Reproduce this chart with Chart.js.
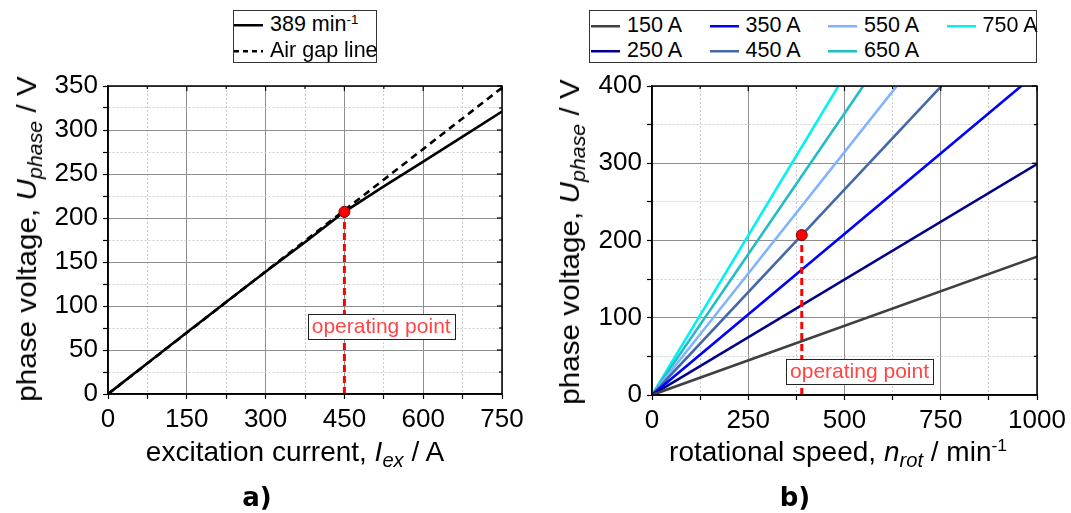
<!DOCTYPE html>
<html><head><meta charset="utf-8">
<script src="https://cdn.jsdelivr.net/npm/chart.js@4.4.0/dist/chart.umd.min.js"></script>
<style>
html,body{margin:0;padding:0;background:#fff;}
body{width:1071px;height:513px;overflow:hidden;position:relative;font-family:"Liberation Sans",Arial,sans-serif;color:#000;}
canvas{position:absolute;top:0;}
#cA{left:0;}
#cB{left:540px;}
.lg{position:absolute;border:1px solid #333;background:#fff;box-sizing:border-box;font-size:21.5px;}
.it{position:absolute;display:flex;align-items:center;white-space:nowrap;line-height:1;transform:translateY(-50%);}
.it svg{margin-right:7px;}
.t{position:absolute;white-space:nowrap;line-height:1;font-size:28px;}
.t sub{font-size:0.72em;vertical-align:-0.28em;line-height:0;}
.t sup,.lg sup{font-size:0.62em;vertical-align:0.55em;line-height:0;}
.pl{position:absolute;font-family:"DejaVu Sans",sans-serif;font-weight:bold;font-size:26px;line-height:1;transform:translate(-50%,-50%);}
</style>
</head><body>
<canvas id="cA" width="540" height="513"></canvas>
<canvas id="cB" width="531" height="513"></canvas>
<div class="lg" id="lgA" style="left:233px;top:10px;width:144px;height:53px;"></div>
<div class="lg" id="lgB" style="left:589px;top:10px;width:448px;height:53px;"></div>
<div class="t" style="left:27px;top:239px;transform:translate(-50%,-50%) rotate(-90deg) scaleX(1.06);">phase voltage, <i>U</i><sub><i>phase</i></sub> / V</div>
<div class="t" style="left:570px;top:242px;transform:translate(-50%,-50%) rotate(-90deg) scaleX(1.06);">phase voltage, <i>U</i><sub><i>phase</i></sub> / V</div>
<div class="t" style="left:295px;top:452px;transform:translate(-50%,-50%);">excitation current, <i>I</i><sub><i>ex</i></sub> / A</div>
<div class="t" style="left:838px;top:452px;transform:translate(-50%,-50%);">rotational speed, <i>n</i><sub><i>rot</i></sub> / min<sup>-1</sup></div>
<div class="pl" style="left:257px;top:497px;">a)</div>
<div class="pl" style="left:795px;top:497px;">b)</div>
<script>
// ---------- data ----------
// panel a) : phase voltage vs excitation current
const excitationCurrent = [0, 75, 150, 225, 300, 375, 450, 525, 600, 675, 750];
const voltage389 = [0, 35, 70, 104.5, 139, 172.5, 207, 236, 264, 292.5, 321];
const airGapCurrent = [0, 750];
const airGapVoltage = [0, 348];
const opCurrent = 450;
const opVoltage = 207;
const legendA = ['389 min', 'Air gap line'];

// panel b) : phase voltage vs rotational speed
const speed = [0, 1000];
const seriesLabels = ['150 A', '250 A', '350 A', '450 A', '550 A', '650 A', '750 A'];
const v150 = [0, 179];
const v250 = [0, 299];
const v350 = [0, 417];
const v450 = [0, 532];
const v550 = [0, 629];
const v650 = [0, 729];
const v750 = [0, 826];
const opSpeed = 389;

// tick labels
const xTicksA = [0, 150, 300, 450, 600, 750];
const yTicksA = [0, 50, 100, 150, 200, 250, 300, 350];
const xTicksB = [0, 250, 500, 750, 1000];
const yTicksB = [0, 100, 200, 300, 400];
const opLabel = 'operating point';

// ---------- helpers ----------
const seriesColors = ['#404040', '#00008b', '#0000ff', '#4668a8', '#80b4ff', '#22bcc4', '#00f2f2'];
const FONT = '"Liberation Sans", Arial, sans-serif';
function pts(xs, ys) { return xs.map((x, i) => ({x: x, y: ys[i]})); }

function axis(min, max, minorStep, majors, pos, fitSize) {
  return {
    type: 'linear', position: pos, min: min, max: max,
    afterFit: s => { if (pos === 'bottom') s.height = fitSize; else s.width = fitSize; },
    ticks: {
      stepSize: minorStep, autoSkip: false, maxRotation: 0, color: '#000', padding: pos === 'bottom' ? 5 : 5,
      font: {family: FONT, size: 26},
      callback: v => majors.includes(v) ? String(v) : ''
    },
    grid: {
      color: c => (c.tick && majors.includes(c.tick.value)) ? '#8e8e8e' : '#cdcdcd',
      lineWidth: 1, tickLength: 5,
      tickColor: '#000', tickWidth: 1.2
    },
    border: {display: true, color: '#000', width: 1.5,
      dash: c => (c.tick && majors.includes(c.tick.value)) ? [] : [2, 2]}
  };
}

const framePlugin = {
  id: 'frame',
  afterDatasetsDraw(chart, args, opts) {
    const ctx = chart.ctx, a = chart.chartArea;
    const xs = chart.scales.x, ys = chart.scales.y;
    ctx.save();
    ctx.strokeStyle = '#000';
    ctx.lineWidth = 1.2;
    // inward ticks on top and right border
    xs.ticks.forEach(t => {
      const px = xs.getPixelForValue(t.value);
      const len = opts.xMaj.includes(t.value) ? 5 : 3;
      ctx.beginPath(); ctx.moveTo(px, a.top); ctx.lineTo(px, a.top + len); ctx.stroke();
    });
    ys.ticks.forEach(t => {
      const py = ys.getPixelForValue(t.value);
      const len = opts.yMaj.includes(t.value) ? 5 : 3;
      ctx.beginPath(); ctx.moveTo(a.right, py); ctx.lineTo(a.right - len, py); ctx.stroke();
    });
    ctx.lineWidth = 1.5;
    ctx.strokeRect(a.left, a.top, a.right - a.left, a.bottom - a.top);
    // operating point label box
    const cx = xs.getPixelForValue(opts.boxX), cy = ys.getPixelForValue(opts.boxY);
    ctx.font = '21px ' + FONT;
    const w = ctx.measureText(opts.text).width + 8, h = 25;
    ctx.fillStyle = '#fff';
    ctx.fillRect(cx - w / 2, cy - h / 2, w, h);
    ctx.lineWidth = 1;
    ctx.strokeStyle = '#222';
    ctx.strokeRect(Math.round(cx - w / 2) + 0.5, Math.round(cy - h / 2) + 0.5, Math.round(w), h);
    ctx.fillStyle = '#ff4545';
    ctx.textAlign = 'center'; ctx.textBaseline = 'middle';
    ctx.fillText(opts.text, cx, cy + 1);
    // operating point marker on top
    const mx = xs.getPixelForValue(opts.opX), my = ys.getPixelForValue(opts.opY);
    ctx.beginPath(); ctx.arc(mx, my, 5.5, 0, Math.PI * 2);
    ctx.fillStyle = '#ff0000'; ctx.fill();
    ctx.strokeStyle = '#7a0000'; ctx.lineWidth = 1; ctx.stroke();
    ctx.restore();
  }
};

function lineDs(label, xs, ys, color, dash) {
  return {label: label, data: pts(xs, ys), borderColor: color, backgroundColor: color,
    borderWidth: 2.6, borderDash: dash || [], pointRadius: 0, tension: 0, fill: false};
}
function opLineDs(x, y) {
  return {label: 'op', data: [{x: x, y: 0}, {x: x, y: y}], borderColor: '#ff0000',
    borderWidth: 3, borderDash: [7, 4], pointRadius: 0, fill: false, clip: 0};
}

// ---------- chart a ----------
const dsA = [
  opLineDs(opCurrent, opVoltage),
  lineDs(legendA[1], airGapCurrent, airGapVoltage, '#000', [7, 5]),
  lineDs(legendA[0], excitationCurrent, voltage389, '#000')
];
new Chart(document.getElementById('cA'), {
  type: 'line',
  data: {datasets: dsA},
  plugins: [framePlugin],
  options: {
    responsive: false, animation: false, events: [],
    layout: {padding: {left: 0, top: 86, right: 38, bottom: 0}},
    plugins: {legend: {display: false}, tooltip: {enabled: false},
      frame: {xMaj: xTicksA, yMaj: yTicksA, boxX: 520, boxY: 76.5, text: opLabel, opX: opCurrent, opY: opVoltage}},
    scales: {
      x: axis(0, 750, 75, xTicksA, 'bottom', 119),
      y: axis(0, 350, 25, yTicksA, 'left', 108)
    }
  }
});

// ---------- chart b ----------
const vB = [v150, v250, v350, v450, v550, v650, v750];
const dsB = [opLineDs(opSpeed, opVoltage)].concat(
  seriesLabels.map((l, i) => lineDs(l, speed, vB[i], seriesColors[i])));
new Chart(document.getElementById('cB'), {
  type: 'line',
  data: {datasets: dsB},
  plugins: [framePlugin],
  options: {
    responsive: false, animation: false, events: [],
    layout: {padding: {left: 0, top: 86, right: 34, bottom: 0}},
    plugins: {legend: {display: false}, tooltip: {enabled: false},
      frame: {xMaj: xTicksB, yMaj: yTicksB, boxX: 539, boxY: 30.4, text: opLabel, opX: opSpeed, opY: opVoltage}},
    scales: {
      x: axis(0, 1000, 125, xTicksB, 'bottom', 118),
      y: axis(0, 400, 50, yTicksB, 'left', 112)
    }
  }
});

// ---------- HTML legends built from the datasets ----------
function sample(color, dash) {
  return '<svg width="29" height="6"><line x1="0" y1="3" x2="29" y2="3" stroke="' + color +
    '" stroke-width="2.6"' + (dash ? ' stroke-dasharray="5,4"' : '') + '/></svg>';
}
const lgA = document.getElementById('lgA');
lgA.innerHTML =
  '<div class="it" style="left:0;top:14px;">' + sample('#000') + '<span>' + legendA[0] + '<sup>-1</sup></span></div>' +
  '<div class="it" style="left:0;top:40px;">' + sample('#000', true) + '<span>' + legendA[1] + '</span></div>';
const lgB = document.getElementById('lgB');
lgB.innerHTML = seriesLabels.map((l, i) => {
  const col = Math.floor(i / 2), row = i % 2;
  return '<div class="it" style="left:' + (1 + col * 118.5) + 'px;top:' + (15 + row * 25) + 'px;">' +
    sample(seriesColors[i]) + '<span>' + l + '</span></div>';
}).join('');
</script>
</body></html>
